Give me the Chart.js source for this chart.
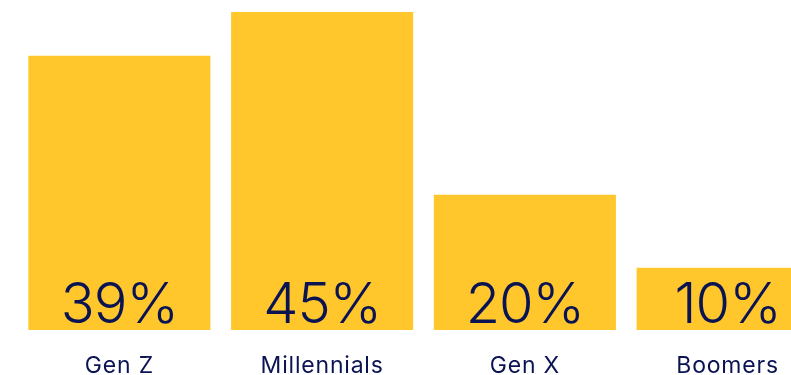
<!DOCTYPE html>
<html>
<head>
<meta charset="utf-8">
<script src="https://cdn.jsdelivr.net/npm/chart.js@4/dist/chart.umd.min.js"></script>
<style>
  html, body { margin: 0; padding: 0; background: #fff; overflow: hidden; }
  #gens { display: block; }
</style>
</head>
<body>
<canvas id="gens" width="829" height="375"></canvas>
<script>
const generations = ["Gen Z", "Millennials", "Gen X", "Boomers"];
const shares = [39, 45, 20, 10];

const yellow = "rgb(255, 199, 44)";
const navy = "rgb(11, 20, 82)";
const fontFamily = "Inter, 'Liberation Sans', Arial, sans-serif";

// prints the percentage inside each bar, near the bottom
const insideLabels = {
  id: "insideLabels",
  beforeDraw(chart) {
    chart.ctx.letterSpacing = "0.8px";
  },
  afterDatasetsDraw(chart) {
    const ctx = chart.ctx;
    const meta = chart.getDatasetMeta(0);
    const bottom = chart.chartArea.bottom;
    ctx.save();
    ctx.letterSpacing = "-1px";
    ctx.font = "300 56px " + fontFamily;
    ctx.fillStyle = navy;
    ctx.textAlign = "center";
    ctx.textBaseline = "alphabetic";
    meta.data.forEach((bar, i) => {
      ctx.fillText(shares[i] + "%", bar.x, bottom - 7);
    });
    ctx.restore();
  },
};

new Chart(document.getElementById("gens"), {
  type: "bar",
  data: {
    labels: generations,
    datasets: [
      {
        data: shares,
        backgroundColor: yellow,
        borderWidth: 0,
        categoryPercentage: 1,
        barPercentage: 0.898,
      },
    ],
  },
  options: {
    responsive: false,
    animation: false,
    layout: { padding: { left: 18, right: 0, top: 12, bottom: 0 } },
    plugins: {
      legend: { display: false },
      tooltip: { enabled: false },
    },
    scales: {
      x: {
        grid: { display: false, drawTicks: false },
        border: { display: false },
        ticks: {
          color: navy,
          padding: 22,
          font: { family: fontFamily, size: 23 },
          maxRotation: 0,
        },
        afterFit(scale) {
          scale.height = 45;
        },
      },
      y: {
        display: false,
        min: 1.5,
        max: 45,
      },
    },
  },
  plugins: [insideLabels],
});
</script>
</body>
</html>
